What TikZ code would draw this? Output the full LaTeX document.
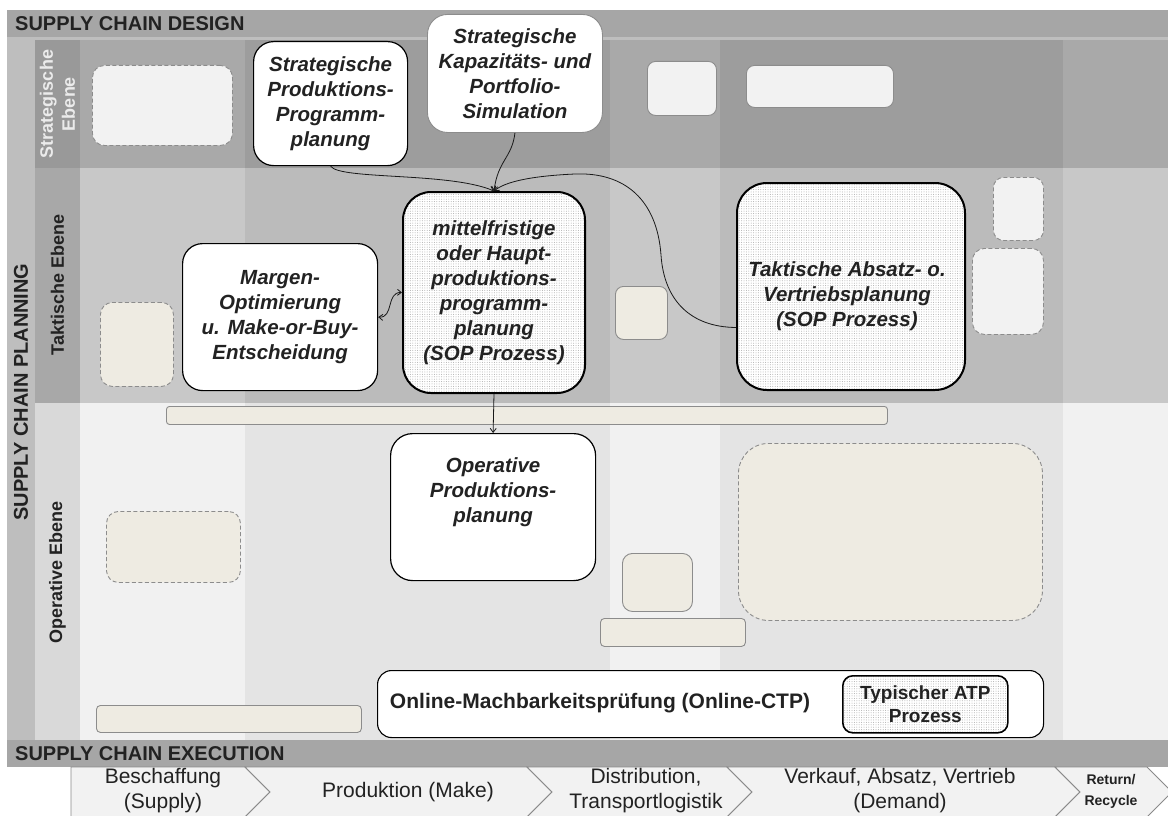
\documentclass[tikz,border=0pt]{standalone}
\usepackage{fontspec}
\setmainfont{Liberation Sans}
\usetikzlibrary{arrows.meta,patterns.meta,calc}

\definecolor{barGray}{HTML}{A6A6A6}
\definecolor{planStrip}{HTML}{BEBEBE}
\definecolor{lvlStrat}{HTML}{999999}
\definecolor{lvlTakt}{HTML}{A8A8A8}
\definecolor{lvlOper}{HTML}{D9D9D9}
\definecolor{stratA}{HTML}{A9A9A9}
\definecolor{stratB}{HTML}{9D9D9D}
\definecolor{taktA}{HTML}{C8C8C8}
\definecolor{taktB}{HTML}{BBBBBB}
\definecolor{operA}{HTML}{F1F1F1}
\definecolor{operB}{HTML}{E4E4E4}
\definecolor{phLight}{HTML}{F2F2F2}
\definecolor{phBeige}{HTML}{EEEBE2}
\definecolor{phBorder}{HTML}{8C8C8C}
\definecolor{chevFill}{HTML}{F2F2F2}
\definecolor{chevDraw}{HTML}{8A8A8A}
\definecolor{txtDark}{HTML}{222222}
\definecolor{txtLight}{HTML}{EBEBEB}

\tikzset{
  hdr/.style={font=\bfseries\fontsize{20}{24}\selectfont, text=txtDark, inner sep=0},
  lvl/.style={font=\bfseries\fontsize{18}{22}\selectfont, rotate=90, align=center,
              inner sep=0, text=txtDark},
  procbox/.style={draw=black, line width=1.2pt, fill=white, inner sep=0,
              anchor=north west, align=center, rounded corners=20pt,
              font=\bfseries\itshape\fontsize{20.5}{25}\selectfont, text=txtDark},
  dotbox/.style={procbox, line width=2pt, rounded corners=28pt,
              preaction={fill=white},
              pattern={Dots[distance=2.4pt, radius=0.5pt]}, pattern color=gray!65},
  boxtext/.style={align=center, inner sep=0, text=txtDark,
              font=\bfseries\itshape\fontsize{20.5}{25}\selectfont},
  phsolid/.style={draw=phBorder, line width=0.9pt, inner sep=0, anchor=north west,
              rounded corners=8pt},
  phdash/.style={phsolid, dash pattern=on 4pt off 2.5pt},
  conn/.style={draw=black!90, line width=0.8pt, -{Straight Barb[length=4pt,width=6pt]}},
  bothconn/.style={draw=black!90, line width=0.8pt,
              {Straight Barb[length=4pt,width=6pt]}-{Straight Barb[length=4pt,width=6pt]}},
  chev/.style={fill=chevFill, draw=chevDraw, line width=0.8pt},
  chevtext/.style={align=center, inner sep=0, text=txtDark,
              font=\fontsize{21}{25}\selectfont},
}

\begin{document}
\begin{tikzpicture}[x=1pt, y=-1pt]
\useasboundingbox (0,0) rectangle (1168,816);

% frame: planning strip, design and execution bars
\fill[planStrip] (7,37) rectangle (1168,740);
\fill[barGray] (7,10) rectangle (1168,37);
\fill[barGray] (7,740) rectangle (1168,767);

% level column
\fill[lvlStrat] (35,40) rectangle (80,168);
\fill[lvlTakt] (35,168) rectangle (80,403);
\fill[lvlOper] (35,403) rectangle (80,740);

% grid of process columns
\foreach \xa/\xb/\cs/\ct/\co in {80/245/stratA/taktA/operA, 245/610/stratB/taktB/operB,
    610/720/stratA/taktA/operA, 720/1063/stratB/taktB/operB, 1063/1168/stratA/taktA/operA} {
  \fill[fill=\cs] (\xa,40) rectangle (\xb,168);
  \fill[fill=\ct] (\xa,168) rectangle (\xb,403);
  \fill[fill=\co] (\xa,403) rectangle (\xb,740);
}

% headings
\node[hdr, anchor=west] (design) at (15,24) {SUPPLY CHAIN DESIGN};
\node[hdr, anchor=west] (exec) at (15,754) {SUPPLY CHAIN EXECUTION};
\node[hdr, rotate=90] (plan) at (21,392) {SUPPLY CHAIN PLANNING};
\node[lvl, text=txtLight] (lstrat) at (57.5,104) {Strategische\\Ebene};
\node[lvl] (ltakt) at (57.5,285) {Taktische Ebene};
\node[lvl] (loper) at (57.5,572) {Operative Ebene};

% placeholder boxes
\node[phdash, fill=phLight, minimum width=140pt, minimum height=80pt, rounded corners=12pt] (ph1) at (92,65) {};
\node[phsolid, fill=phLight, minimum width=69pt, minimum height=54pt] (ph2) at (647,61) {};
\node[phsolid, fill=phLight, minimum width=147pt, minimum height=42pt] (ph3) at (746,65) {};
\node[phdash, fill=phLight, minimum width=50pt, minimum height=63pt, rounded corners=10pt] (ph4) at (993,177) {};
\node[phdash, fill=phLight, minimum width=71pt, minimum height=86pt, rounded corners=12pt] (ph5) at (972,248) {};
\node[phdash, fill=phBeige, minimum width=73pt, minimum height=84pt, rounded corners=12pt] (ph6) at (100,302) {};
\node[phsolid, fill=phBeige, minimum width=52pt, minimum height=53pt] (ph7) at (615,286) {};
\node[phsolid, fill=phBeige, minimum width=721pt, minimum height=18pt, rounded corners=3pt] (bar1) at (166,406) {};
\node[phdash, fill=phBeige, minimum width=304pt, minimum height=177pt, rounded corners=30pt] (ph8) at (738,443) {};
\node[phdash, fill=phBeige, minimum width=134pt, minimum height=71pt, rounded corners=12pt] (ph9) at (106,511) {};
\node[phsolid, fill=phBeige, minimum width=70pt, minimum height=58pt, rounded corners=10pt] (ph10) at (622,553) {};
\node[phsolid, fill=phBeige, minimum width=145pt, minimum height=28pt, rounded corners=4pt] (bar2) at (600,618) {};
\node[phsolid, fill=phBeige, minimum width=265pt, minimum height=27pt, rounded corners=4pt] (bar3) at (96,705) {};

% planning processes
\node[procbox, minimum width=154pt, minimum height=124pt] (spp) at (253,41)
  {Strategische\\Produktions-\\Programm-\\planung};
\node[procbox, draw=black!45, line width=0.9pt, minimum width=175pt, minimum height=118pt] (skp) at (427,14)
  {Strategische\\Kapazitäts- und\\Portfolio-\\Simulation};
\node[procbox, minimum width=195pt, minimum height=147pt] (mar) at (182,243)
  {Margen-\\Optimierung\\u. Make-or-Buy-\\Entscheidung};
\node[dotbox, minimum width=182pt, minimum height=201pt] (mitt) at (402,191)
  {mittelfristige\\oder Haupt-\\produktions-\\programm-\\planung\\(SOP Prozess)};
\node[dotbox, minimum width=228pt, minimum height=207pt, rounded corners=30pt,
  label={[boxtext, xshift=-4pt, yshift=-10pt]center:{Taktische Absatz- o.\\Vertriebsplanung\\(SOP Prozess)}}] (tak) at (736,182) {};
\node[procbox, minimum width=205pt, minimum height=147pt, rounded corners=22pt,
  label={[boxtext, yshift=15pt]center:{Operative\\Produktions-\\planung}}] (opp) at (390,433) {};

% online feasibility check with ATP process
\node[procbox, line width=1.1pt, rounded corners=14pt, minimum width=666pt, minimum height=67pt] (onl) at (377,670) {};
\node[boxtext, font=\bfseries\fontsize{21}{24}\selectfont] (onltxt) at (600,703)
  {Online-Machbarkeitsprüfung (Online-CTP)};
\node[dotbox, line width=1.6pt, rounded corners=10pt, minimum width=165pt, minimum height=57pt,
  font=\bfseries\fontsize{19}{23}\selectfont] (atp) at (842,675) {Typischer ATP\\Prozess};

% connectors
\draw[conn] (spp.south) .. controls (340,180) and (450,172) .. (mitt.north);
\draw[conn] (skp.south) .. controls (512,158) and (498,160) .. (mitt.north);
\draw[conn] ([yshift=-41pt]tak.west) .. controls (690,327) and (664,300) .. (661,255)
  .. controls (657,200) and (625,172) .. (575,174)
  .. controls (530,176) and (505,182) .. (mitt.north);
\draw[bothconn] (mar.east) .. controls (394,318) and (386,292) .. (mitt.west);
\draw[conn] (mitt.south) -- (opp.north);

% value chain chevrons
\draw[chev] (71,767) -- (245,767) -- (270,792) -- (245,817) -- (71,817) -- cycle;
\draw[chev] (245,767) -- (527,767) -- (552,792) -- (527,817) -- (245,817) -- (270,792) -- cycle;
\draw[chev] (527,767) -- (727,767) -- (752,792) -- (727,817) -- (527,817) -- (552,792) -- cycle;
\draw[chev] (727,767) -- (1055,767) -- (1080,792) -- (1055,817) -- (727,817) -- (752,792) -- cycle;
\draw[chev] (1055,767) -- (1147,767) -- (1172,792) -- (1147,817) -- (1055,817) -- (1080,792) -- cycle;
\node[chevtext] (cs) at (163,791) {Beschaffung\\(Supply)};
\node[chevtext] (cm) at (408,792) {Produktion (Make)};
\node[chevtext] (cd) at (646,791) {Distribution,\\Transportlogistik};
\node[chevtext] (cv) at (900,791) {Verkauf, Absatz, Vertrieb\\(Demand)};
\node[chevtext, font=\bfseries\fontsize{14}{21}\selectfont] (cr) at (1111,791) {Return/\\Recycle};
\end{tikzpicture}
\end{document}
